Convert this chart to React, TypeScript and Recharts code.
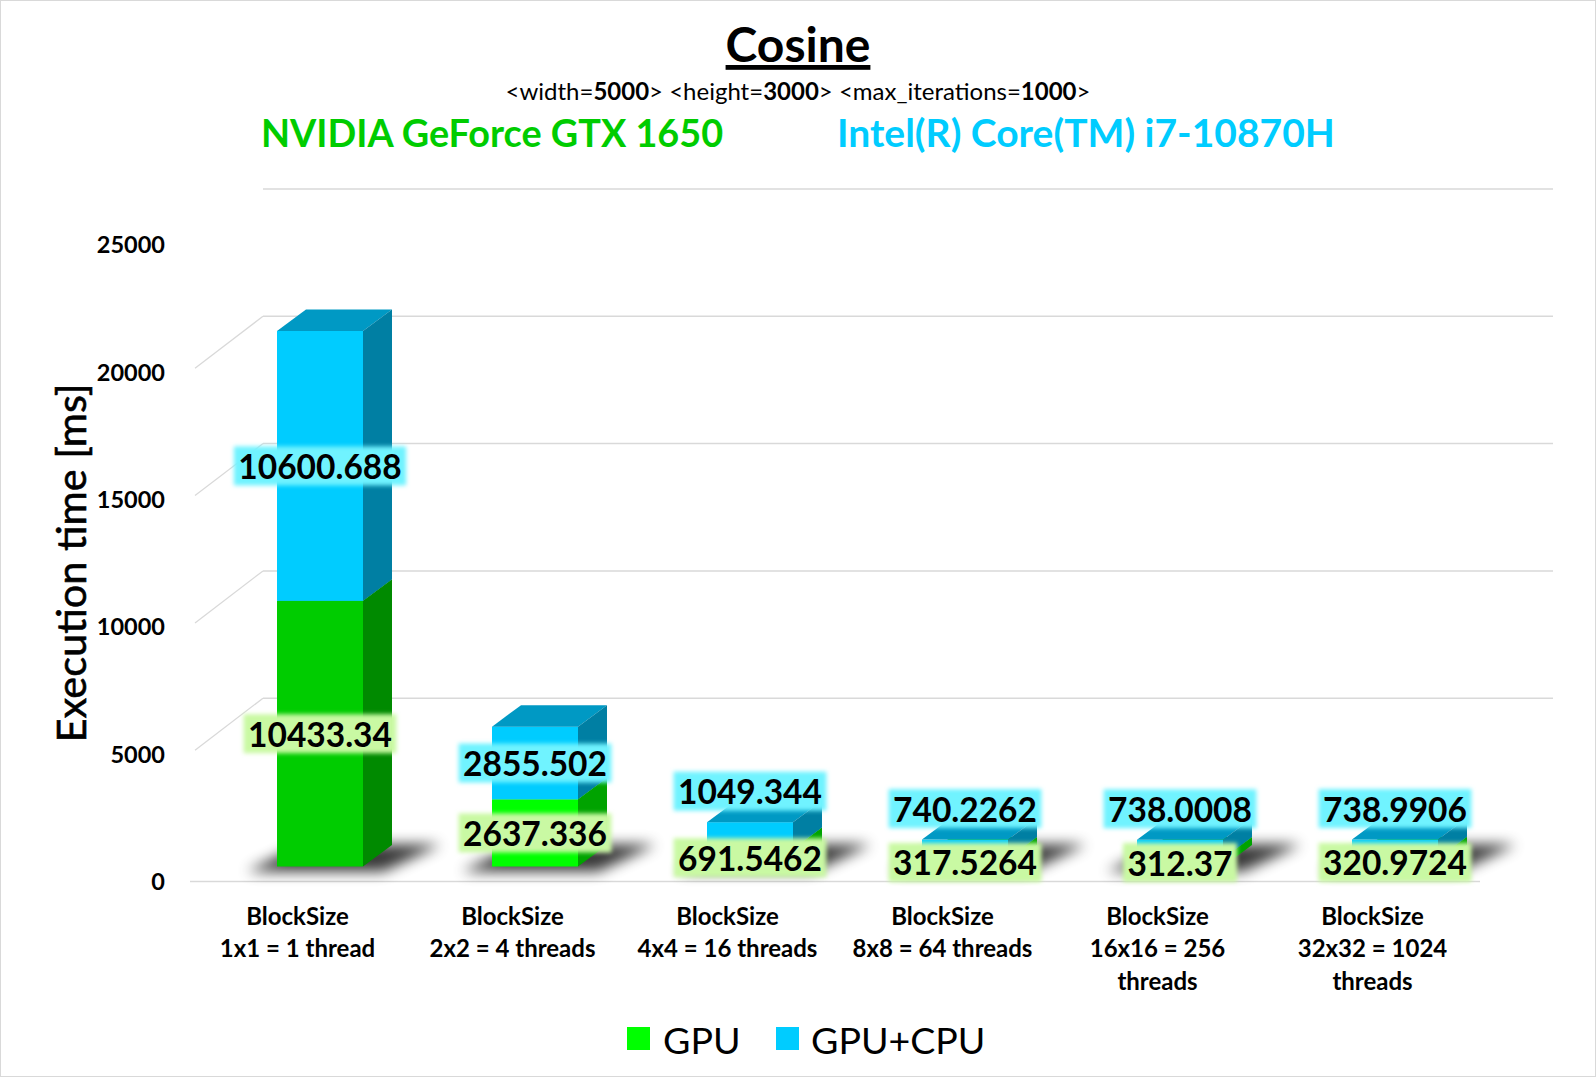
import React from 'react';
import { BarChart, Bar, XAxis, YAxis, CartesianGrid, LabelList, Cell } from 'recharts';

// ---------- data ----------
const categories = [
  'BlockSize\n1x1 = 1 thread',
  'BlockSize\n2x2 = 4 threads',
  'BlockSize\n4x4 = 16 threads',
  'BlockSize\n8x8 = 64 threads',
  'BlockSize\n16x16 = 256\nthreads',
  'BlockSize\n32x32 = 1024\nthreads',
];
const gpuValues = [10433.34, 2637.336, 691.5462, 317.5264, 312.37, 320.9724];
const cpuValues = [10600.688, 2855.502, 1049.344, 740.2262, 738.0008, 738.9906];
const yTicks = [0, 5000, 10000, 15000, 20000, 25000];
const seriesNames = ['GPU', 'GPU+CPU'];
const deviceNames = ['NVIDIA GeForce GTX 1650', 'Intel(R) Core(TM) i7-10870H'];

const data = categories.map((c, i) => ({ category: c, gpu: gpuValues[i], cpu: cpuValues[i] }));

// ---------- layout / style ----------
const FONT = 'Lato, "Open Sans", sans-serif';
const CHART_W = 1596;
const CHART_H = 1077;
const YAXIS_W = 100;
const XAXIS_H = 100;
const MARGIN = { top: 245, right: 116, bottom: 95.5, left: 90 };
const PLOT_TOP = MARGIN.top;
const PLOT_BOTTOM = CHART_H - MARGIN.bottom - XAXIS_H;

const SHIFT_X = 22; // bars sit inside the 3D floor
const SHIFT_Y = -15;
const DEPTH_X = 29; // bar depth
const DEPTH_Y = -21.5;
const WALL_X = 73; // back wall offset
const WALL_Y = -56;

const GREEN_LEGEND = '#00ff00';
const BLUE = '#00ccff';
const BLUE_TOP = '#0099c4';
const BLUE_SIDE = '#007fa3';
const GRID = '#d9d9d9';

function Box3D(props: any) {
  const { x, y, width, height, front, top, side, shadow } = props;
  if (x == null || width == null) return null;
  const fx = x + SHIFT_X;
  const fy = y + SHIFT_Y;
  const fw = width;
  const fh = Math.max(height, 0);
  const yb = fy + fh;
  return (
    <g>
      {shadow && (
        <polygon
          points={`${fx - 30},${yb + 5} ${fx + fw + 20},${yb + 5} ${fx + fw + 78},${yb - 22} ${fx + 25},${yb - 22}`}
          fill="#000"
          opacity={0.78}
          filter="url(#shadowBlur)"
        />
      )}
      <rect x={fx} y={fy} width={fw} height={fh} fill={front} />
      <polygon
        points={`${fx},${fy} ${fx + fw},${fy} ${fx + fw + DEPTH_X},${fy + DEPTH_Y} ${fx + DEPTH_X},${fy + DEPTH_Y}`}
        fill={top}
      />
      <polygon
        points={`${fx + fw},${fy} ${fx + fw + DEPTH_X},${fy + DEPTH_Y} ${fx + fw + DEPTH_X},${yb + DEPTH_Y} ${fx + fw},${yb}`}
        fill={side}
      />
    </g>
  );
}

function ValueTag({ cx, cy, text, bg }: { cx: number; cy: number; text: string; bg: string }) {
  const digits = text.replace('.', '').length;
  const w = digits * 19.4 + 9 + 8;
  const h = 39;
  return (
    <g>
      <rect x={cx - w / 2} y={cy - h / 2} width={w} height={h} fill={bg} filter="url(#tagGlow)" />
      <text
        x={cx}
        y={cy}
        textAnchor="middle"
        dominantBaseline="central"
        fontFamily={FONT}
        fontWeight="bold"
        fontSize={33.5}
        fill="#000"
      >
        {text}
      </text>
    </g>
  );
}

const renderTags = (props: any) => {
  const { x, y, width, height, index } = props;
  if (x == null) return null;
  const fx = x + SHIFT_X;
  const fy = y + SHIFT_Y;
  const cx = fx + width / 2;
  const cpu = cpuValues[index];
  const gpu = gpuValues[index];
  const k = height / cpu;
  const gTop = fy + height;
  const gCy = gTop + (gpu * k) / 2;
  const bCy = height < 45 ? fy - 31 : fy + height / 2;
  return (
    <g key={`tags-${index}`}>
      <ValueTag cx={cx} cy={gCy} text={String(gpu)} bg="#c9f9a3" />
      <ValueTag cx={cx} cy={bCy} text={String(cpu)} bg="#6ff3ff" />
    </g>
  );
};

const gridLine = (props: any) => {
  const { x1, x2, y1, key } = props;
  const isFloor = Math.abs(y1 - PLOT_BOTTOM) < 1;
  const isTop = Math.abs(y1 - PLOT_TOP) < 1;
  if (isFloor) {
    return <line key={key} x1={x1} y1={y1} x2={x2} y2={y1} stroke={GRID} strokeWidth={1.5} />;
  }
  return (
    <g key={key}>
      {!isTop && (
        <line x1={x1 + 5} y1={y1 - 4} x2={x1 + WALL_X} y2={y1 + WALL_Y} stroke={GRID} strokeWidth={1.3} />
      )}
      <line x1={x1 + WALL_X} y1={y1 + WALL_Y} x2={x2 + WALL_X} y2={y1 + WALL_Y} stroke={GRID} strokeWidth={1.5} />
    </g>
  );
};

const XTick = (props: any) => {
  const { x, y, payload } = props;
  const lines = String(payload.value).split('\n');
  return (
    <text x={x} y={y} textAnchor="middle" fontFamily={FONT} fontWeight="bold" fontSize={24} fill="#000">
      {lines.map((l, i) => (
        <tspan key={i} x={x} dy={i === 0 ? 43 : 32.5}>
          {l}
        </tspan>
      ))}
    </text>
  );
};

const YLabel = () => (
  <text
    x={70}
    y={563}
    transform="rotate(-90 70 563)"
    textAnchor="middle"
    dominantBaseline="central"
    fontFamily={FONT}
    fontSize={41.5}
    fill="#000"
    stroke="#000"
    strokeWidth={0.6}
  >
    Execution time [ms]
  </text>
);

export default function App() {
  return (
    <div style={{ position: 'absolute', left: 0, top: 0, width: CHART_W, height: CHART_H, background: '#fff' }}>
      <svg width={0} height={0} style={{ position: 'absolute' }}>
        <defs>
          <filter id="shadowBlur" x="-50%" y="-100%" width="200%" height="300%">
            <feGaussianBlur stdDeviation="7" />
          </filter>
          <filter id="tagGlow" x="-20%" y="-50%" width="140%" height="200%">
            <feGaussianBlur stdDeviation="2" />
          </filter>
        </defs>
      </svg>
      <BarChart width={CHART_W} height={CHART_H} data={data} margin={MARGIN}>
        <CartesianGrid horizontal={gridLine} vertical={false} />
        <XAxis
          dataKey="category"
          axisLine={false}
          tickLine={false}
          tickSize={0}
          tickMargin={0}
          height={XAXIS_H}
          interval={0}
          tick={<XTick />}
        />
        <YAxis
          width={YAXIS_W}
          domain={[0, 25000]}
          ticks={yTicks}
          axisLine={false}
          tickLine={false}
          tickSize={0}
          tickMargin={25}
          tick={{ fontFamily: FONT, fontWeight: 'bold', fontSize: 23.5, fill: '#000' }}
          label={<YLabel />}
        />
        <Bar
          dataKey="gpu"
          name={seriesNames[0]}
          stackId="s"
          barSize={86}
          isAnimationActive={false}
          shape={(p: any) => (
            <Box3D
              {...p}
              front={p.index === 0 ? '#00cc00' : GREEN_LEGEND}
              top={p.index === 0 ? '#00a000' : '#00cc00'}
              side={p.index === 0 ? '#008a00' : '#00a300'}
              shadow
            />
          )}
        >
          {data.map((d, i) => (
            <Cell key={i} fill={GREEN_LEGEND} />
          ))}
        </Bar>
        <Bar
          dataKey="cpu"
          name={seriesNames[1]}
          stackId="s"
          barSize={86}
          isAnimationActive={false}
          shape={(p: any) => <Box3D {...p} front={BLUE} top={BLUE_TOP} side={BLUE_SIDE} />}
        >
          <LabelList dataKey="cpu" content={renderTags} />
        </Bar>
      </BarChart>

      {/* titles and legend */}
      <svg
        width={CHART_W}
        height={CHART_H}
        style={{ position: 'absolute', left: 0, top: 0, pointerEvents: 'none' }}
      >
        <rect x={0.5} y={0.5} width={CHART_W - 1} height={CHART_H - 1} fill="none" stroke="#d9d9d9" />
        <text
          x={798}
          y={62}
          textAnchor="middle"
          fontFamily={FONT}
          fontWeight="bold"
          fontSize={48}
          fill="#000"
          style={{ textDecoration: 'underline', textDecorationThickness: '4px' } as any}
        >
          Cosine
        </text>
        <text x={798} y={100} textAnchor="middle" fontFamily={FONT} fontSize={24} fill="#000">
          <tspan>{'<width='}</tspan>
          <tspan fontWeight="bold">5000</tspan>
          <tspan>{'> <height='}</tspan>
          <tspan fontWeight="bold">3000</tspan>
          <tspan>{'> <max_iterations='}</tspan>
          <tspan fontWeight="bold">1000</tspan>
          <tspan>{'>'}</tspan>
        </text>
        <text x={261} y={147} fontFamily={FONT} fontWeight="bold" fontSize={37.8} fill="#00cc00">
          {deviceNames[0]}
        </text>
        <text x={837} y={147} fontFamily={FONT} fontWeight="bold" fontSize={39} fill={BLUE}>
          {deviceNames[1]}
        </text>

        {/* legend */}
        <rect x={627} y={1027} width={23} height={23} fill={GREEN_LEGEND} />
        <text x={663} y={1039} dominantBaseline="central" fontFamily={FONT} fontSize={37.5} fill="#000">
          {seriesNames[0]}
        </text>
        <rect x={776} y={1027} width={23} height={23} fill={BLUE} />
        <text x={811} y={1039} dominantBaseline="central" fontFamily={FONT} fontSize={37.5} fill="#000">
          {seriesNames[1]}
        </text>
      </svg>
    </div>
  );
}
